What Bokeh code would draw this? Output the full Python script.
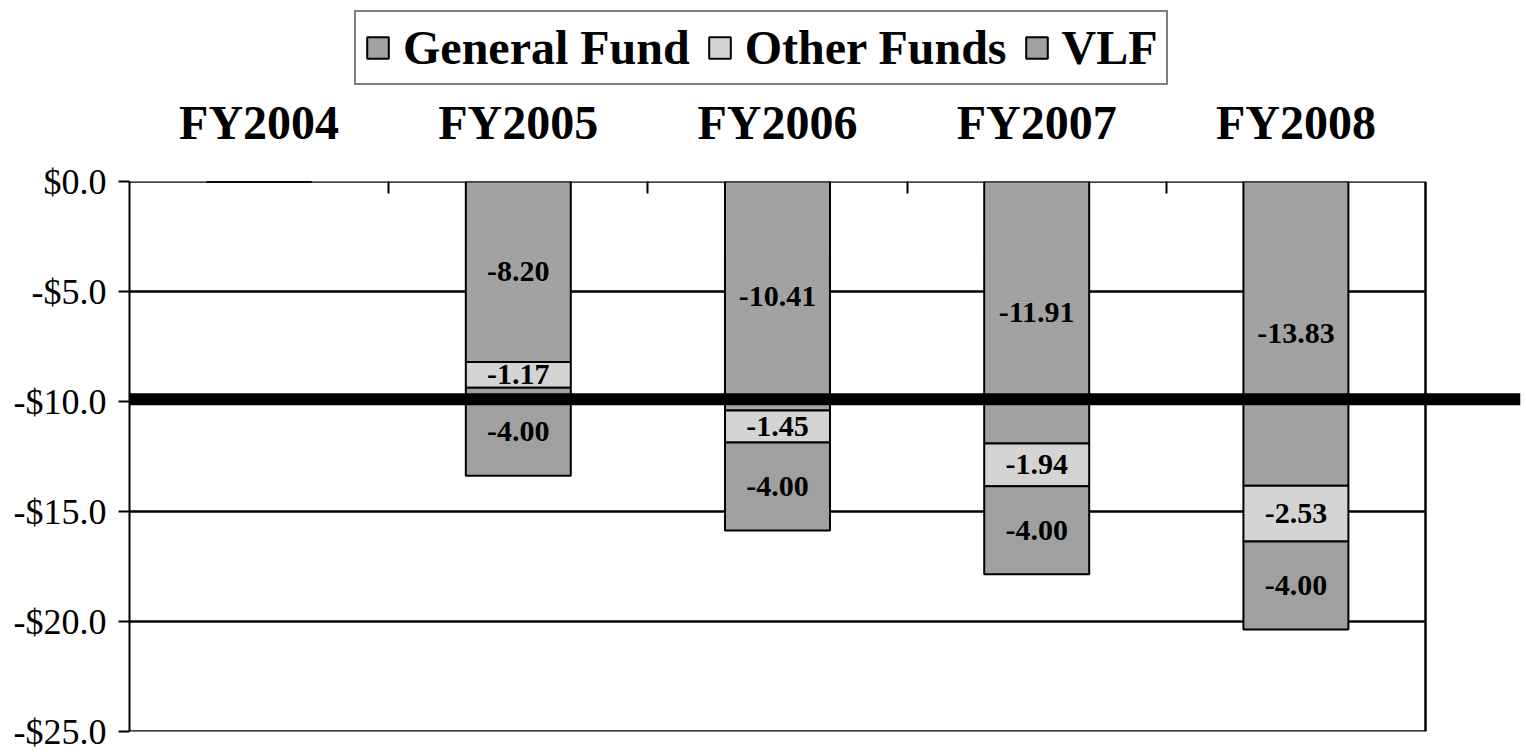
from bokeh.plotting import figure
from bokeh.layouts import column
from bokeh.models import (ColumnDataSource, Range1d, FixedTicker, Span,
                          Legend, LegendItem)
from bokeh.embed import file_html
from bokeh.resources import INLINE
from bokeh.core.properties import value

# ---------------- data ----------------
years = ["FY2004", "FY2005", "FY2006", "FY2007", "FY2008"]
general_fund = [0.0, -8.20, -10.41, -11.91, -13.83]
other_funds = [0.0, -1.17, -1.45, -1.94, -2.53]
vlf = [0.0, -4.00, -4.00, -4.00, -4.00]
series_names = ["General Fund", "Other Funds", "VLF"]
y_ticks = [0, -5, -10, -15, -20, -25]
y_tick_labels = ["$0.0", "-$5.0", "-$10.0", "-$15.0", "-$20.0", "-$25.0"]
threshold = -9.9

# ---------------- style / layout ----------------
SERIF = "Liberation Serif"
DARK = "#a2a2a2"
LIGHT = "#d4d4d4"
VLF_C = "#a0a0a0"
COLORS = [DARK, LIGHT, VLF_C]
W, H = 1526, 756
LH = 90                 # height of the legend strip
MH = H - LH             # height of the main chart
LEFT = 129              # left border (px)
RIGHT = 6
FRAME_TOP = 181         # top of the plot box on the page
PLOT_W_PX = 1296        # width of the boxed plot area (px)
FRAME_W = W - LEFT - RIGHT

n = len(years)
x = list(range(n))
x_start = -0.5
x_box_end = n - 0.5
x_end = x_start + n * FRAME_W / PLOT_W_PX
stack_cols = ["general", "other", "vlf"]

src = ColumnDataSource(dict(x=x, general=general_fund, other=other_funds, vlf=vlf))

p = figure(width=W, height=MH, output_backend="svg", toolbar_location=None,
           x_range=Range1d(x_start, x_end), y_range=Range1d(min(y_ticks), max(y_ticks)),
           x_axis_location="above",
           min_border_left=LEFT, min_border_right=RIGHT,
           min_border_top=FRAME_TOP - LH, min_border_bottom=25)
p.background_fill_color = "white"
p.border_fill_color = "white"
p.outline_line_color = None
p.xgrid.visible = False
p.ygrid.visible = False

# horizontal gridlines (incl. top and bottom border of the plot box)
p.segment(x0=[x_start] * len(y_ticks), x1=[x_box_end] * len(y_ticks),
          y0=y_ticks, y1=y_ticks, line_color="black", line_width=2.5)
# right border of the plot box
p.segment(x0=[x_box_end], x1=[x_box_end], y0=[min(y_ticks)], y1=[max(y_ticks)],
          line_color="black", line_width=2.5)

# bars
renderers = p.vbar_stack(stack_cols, x="x", width=0.405, source=src,
                         fill_color=COLORS, line_color="black", line_width=2)

# segment value labels
lx, ly, lt = [], [], []
for i in range(n):
    base = 0.0
    for vals in (general_fund, other_funds, vlf):
        v = vals[i]
        if v != 0:
            lx.append(x[i])
            ly.append(base + v / 2.0)
            lt.append(f"{v:.2f}")
        base += v
p.text(x=lx, y=ly, text=lt, text_align="center", text_baseline="middle",
       text_font=value(SERIF), text_font_style="bold", text_font_size="30px",
       text_color="black")

# thick reference line, from the y axis to the right edge
p.add_layout(Span(location=threshold, dimension="width", line_color="black",
                  line_width=12, level="overlay"))

# y axis
yax = p.yaxis[0]
yax.ticker = FixedTicker(ticks=y_ticks)
yax.major_label_overrides = {t: s for t, s in zip(y_ticks, y_tick_labels)}
yax.major_label_text_font = SERIF
yax.major_label_text_font_size = "36px"
yax.major_label_text_color = "black"
yax.major_label_standoff = 12
yax.major_tick_out = 11
yax.major_tick_in = 0
yax.minor_tick_out = 0
yax.minor_tick_in = 0
yax.major_tick_line_color = "black"
yax.major_tick_line_width = 2
yax.axis_line_color = "black"
yax.axis_line_width = 2

# x axis (top): category names, boundary tick marks
xax = p.xaxis[0]
xax.ticker = FixedTicker(ticks=x, minor_ticks=[i + 0.5 for i in x[:-1]])
xax.major_label_overrides = {i: s for i, s in zip(x, years)}
xax.major_label_text_font = SERIF
xax.major_label_text_font_style = "bold"
xax.major_label_text_font_size = "48px"
xax.major_label_text_color = "black"
xax.major_label_standoff = 33
xax.major_tick_in = 0
xax.major_tick_out = 0
xax.minor_tick_in = 12
xax.minor_tick_out = 0
xax.minor_tick_line_color = "black"
xax.minor_tick_line_width = 2
xax.axis_line_color = None

# ---------------- legend strip ----------------
# hidden copies of the stacked bars, used only to key the legend
lf = figure(width=W, height=LH, output_backend="svg", toolbar_location=None,
            x_axis_type=None, y_axis_type=None,
            x_range=Range1d(x_start, x_end), y_range=Range1d(min(y_ticks), max(y_ticks)),
            min_border=0)
lf.outline_line_color = None
lf.background_fill_color = "white"
lf.border_fill_color = "white"
lf.xgrid.visible = False
lf.ygrid.visible = False
key_renderers = lf.vbar_stack(stack_cols, x="x", width=0.405, source=src,
                              fill_color=COLORS, line_color="black", line_width=2)
for r in key_renderers:
    r.visible = False
legend = Legend(items=[LegendItem(label=nm, renderers=[r]) for nm, r in zip(series_names, key_renderers)],
                location=(225, 5), orientation="horizontal",
                label_text_font=SERIF, label_text_font_style="bold",
                label_text_font_size="48px", label_text_color="black",
                glyph_width=27, glyph_height=27, label_standoff=12,
                spacing=16, padding=8, margin=0,
                border_line_color="black", border_line_width=2,
                background_fill_color="white", background_fill_alpha=1.0)
lf.add_layout(legend)

open("out.html", "w").write(file_html(column(lf, p, spacing=0), INLINE))
